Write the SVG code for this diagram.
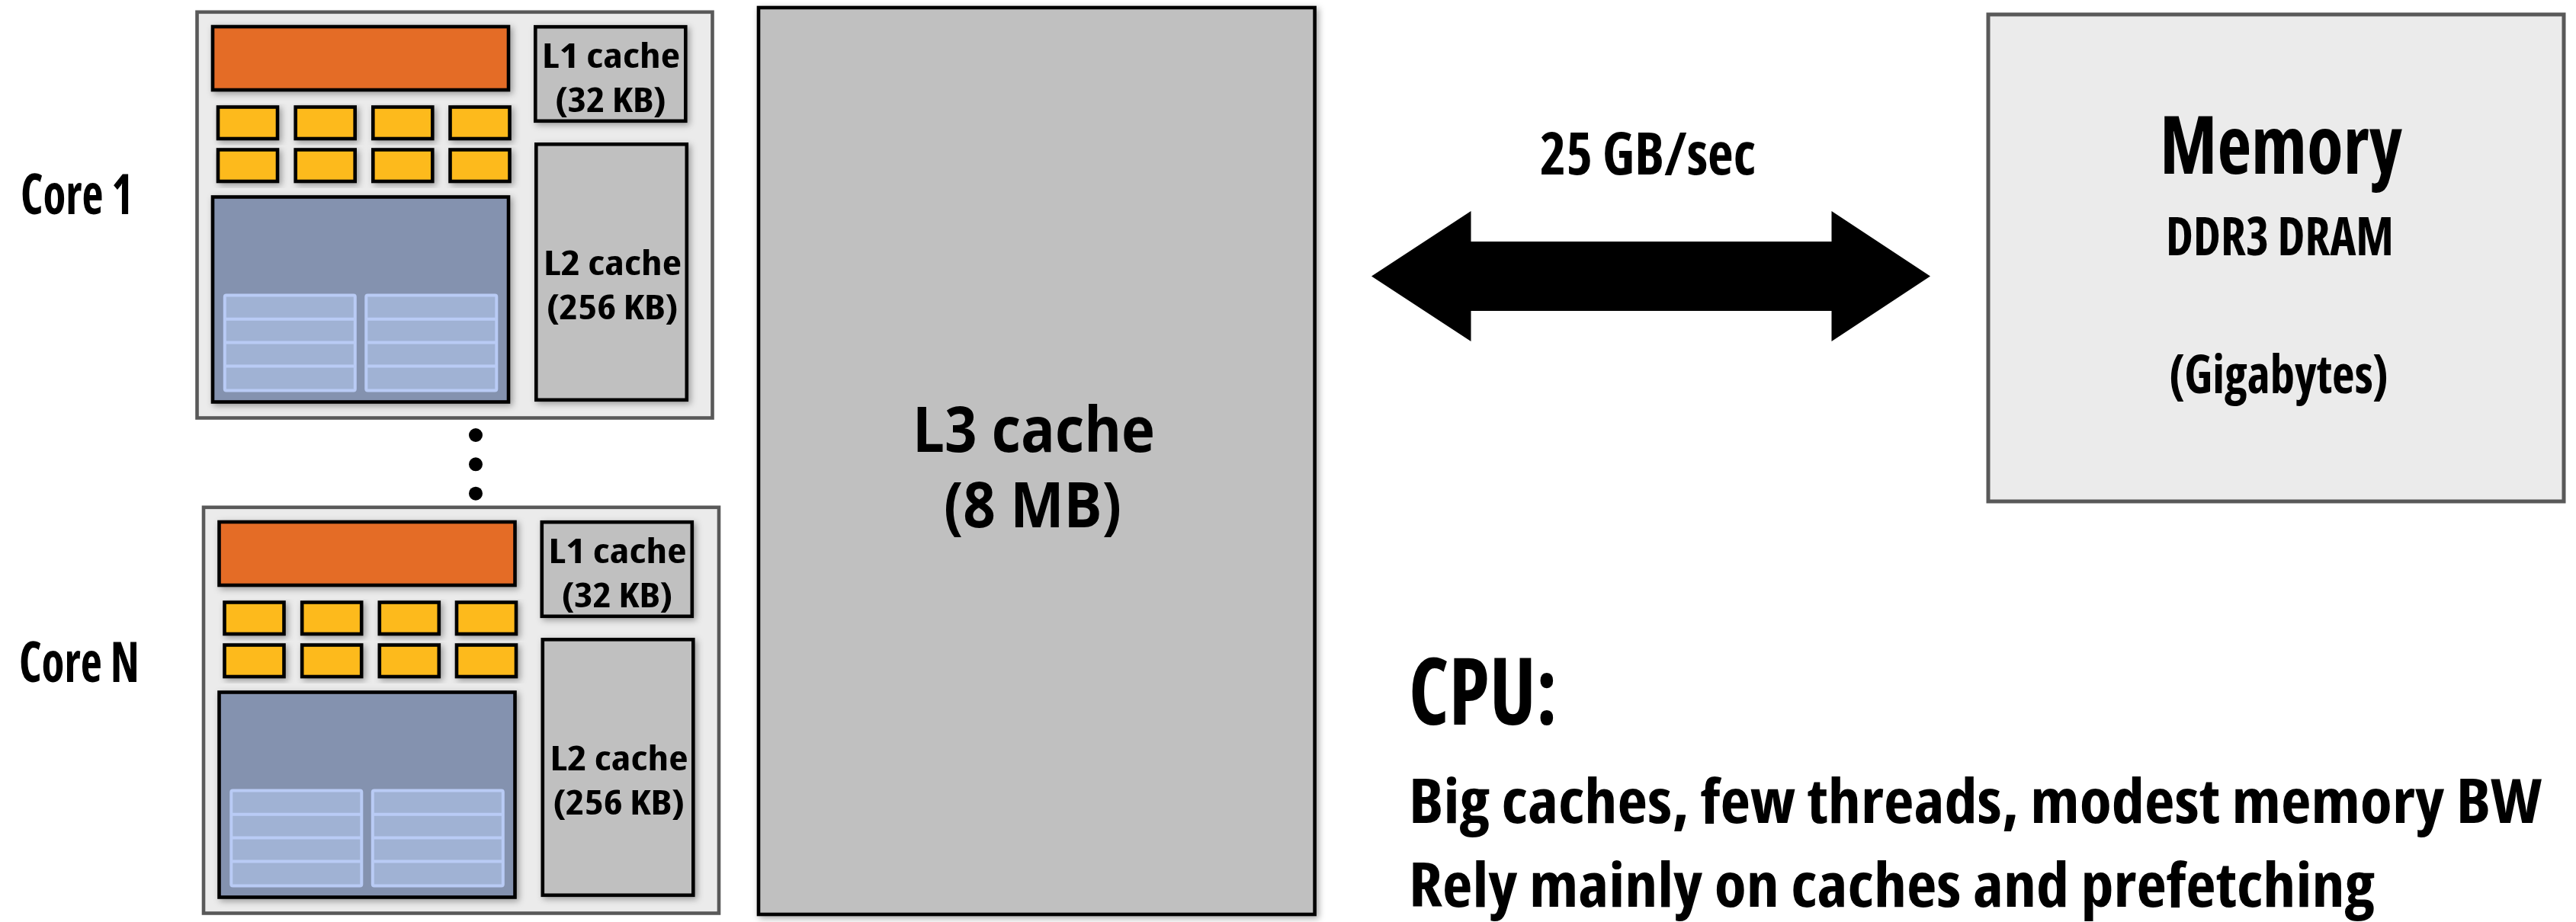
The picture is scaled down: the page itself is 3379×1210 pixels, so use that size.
<svg xmlns="http://www.w3.org/2000/svg" xmlns:xlink="http://www.w3.org/1999/xlink" width="3379" height="1210" viewBox="0 0 3379 1210">
<defs>
<filter id="sh" x="-10%" y="-10%" width="130%" height="130%">
<feDropShadow dx="3" dy="3" stdDeviation="4" flood-color="#000" flood-opacity="0.35"/>
</filter>
<g id="coreBody">
<rect class="outer" x="258.5" y="15.8" width="676" height="532.7"/>
<rect class="blk orange" x="279" y="35" width="388" height="83" filter="url(#sh)"/>
<rect class="blk yel" x="286" y="140.5" width="78" height="41.5" filter="url(#sh)"/>
<rect class="blk yel" x="387.7" y="140.5" width="78" height="41.5" filter="url(#sh)"/>
<rect class="blk yel" x="489.3" y="140.5" width="78" height="41.5" filter="url(#sh)"/>
<rect class="blk yel" x="590.5" y="140.5" width="78" height="41.5" filter="url(#sh)"/>
<rect class="blk yel" x="286" y="196.5" width="78" height="41.5" filter="url(#sh)"/>
<rect class="blk yel" x="387.7" y="196.5" width="78" height="41.5" filter="url(#sh)"/>
<rect class="blk yel" x="489.3" y="196.5" width="78" height="41.5" filter="url(#sh)"/>
<rect class="blk yel" x="590.5" y="196.5" width="78" height="41.5" filter="url(#sh)"/>
<rect class="blk blue" x="279" y="258.5" width="388" height="269" filter="url(#sh)"/>
<rect class="grid" x="294.8" y="387.6" width="171" height="125" rx="2"/>
<rect class="grid" x="480.3" y="387.6" width="171" height="125" rx="2"/>
<path class="gline" d="M294.8 418.8H465.8M294.8 449.6H465.8M294.8 480.6H465.8M480.3 418.8H651.3M480.3 449.6H651.3M480.3 480.6H651.3"/>
<rect class="blk cache" x="702.3" y="35.2" width="197" height="123.6" filter="url(#sh)"/>
<rect class="blk cache" x="703.3" y="189.3" width="197.5" height="335.5" filter="url(#sh)"/>
<text class="t sm" x="801.5" y="88.6" textLength="181" lengthAdjust="spacingAndGlyphs">L1 cache</text>
<text class="t sm" x="801" y="146.5" textLength="146" lengthAdjust="spacingAndGlyphs">(32 KB)</text>
<text class="t sm" x="803.5" y="360.7" textLength="181" lengthAdjust="spacingAndGlyphs">L2 cache</text>
<text class="t sm" x="803.2" y="419.3" textLength="173" lengthAdjust="spacingAndGlyphs">(256 KB)</text>
</g>
</defs>
<style>
.outer{fill:#ebebeb;stroke:#595959;stroke-width:4.6}
.blk{stroke:#000;stroke-width:4.6}
.orange{fill:#e46c25}
.yel{fill:#fdba1a}
.blue{fill:#8492af}
.cache{fill:#c0c0c0}
.grid{fill:#a0b2d4;stroke:#b9cbf5;stroke-width:4}
.gline{fill:none;stroke:#b9cbf5;stroke-width:4}
.t{font-family:"Open Sans","Liberation Sans",sans-serif;font-weight:700;font-stretch:condensed;fill:#000;text-anchor:middle}
.l{text-anchor:start}
.sm{font-size:44px}
</style>
<rect width="3379" height="1210" fill="#ffffff"/>
<g id="core1">
<use xlink:href="#coreBody" href="#coreBody"/>
<text class="t l" x="27" y="281" font-size="73" textLength="148" lengthAdjust="spacingAndGlyphs">Core 1</text>
</g>
<g id="ellipsis">
<circle cx="624" cy="571" r="9"/>
<circle cx="624" cy="609.3" r="9"/>
<circle cx="624" cy="647.7" r="9"/>
</g>
<g id="coreN">
<use xlink:href="#coreBody" href="#coreBody" transform="translate(8.5,650)"/>
<text class="t l" x="25" y="895" font-size="73" textLength="158" lengthAdjust="spacingAndGlyphs">Core N</text>
</g>
<g id="l3">
<rect x="995" y="10" width="729.6" height="1190" fill="#c0c0c0" stroke="#000" stroke-width="4.6" filter="url(#sh)"/>
<text class="t" x="1356" y="593" font-size="82" style="font-stretch:normal" textLength="318" lengthAdjust="spacingAndGlyphs">L3 cache</text>
<text class="t" x="1354.5" y="692" font-size="82" style="font-stretch:normal" textLength="233" lengthAdjust="spacingAndGlyphs">(8 MB)</text>
</g>
<g id="memory">
<rect x="2608" y="19" width="755" height="639" fill="#ebebeb" stroke="#595959" stroke-width="5"/>
<text class="t" x="2992" y="228" font-size="106" textLength="318" lengthAdjust="spacingAndGlyphs">Memory</text>
<text class="t" x="2990.5" y="335" font-size="69" textLength="299" lengthAdjust="spacingAndGlyphs">DDR3 DRAM</text>
<text class="t" x="2989" y="516" font-size="69" textLength="288" lengthAdjust="spacingAndGlyphs">(Gigabytes)</text>
</g>
<g id="connectors">
<polygon points="1799,362.5 1929.5,277 1929.5,317 2402.5,317 2402.5,277 2532,362.5 2402.5,448 2402.5,408 1929.5,408 1929.5,448" fill="#000"/>
<text class="t" x="2161.5" y="229" font-size="77" textLength="283" lengthAdjust="spacingAndGlyphs">25 GB/sec</text>
</g>
<g id="cpu-notes">
<text class="t l" x="1848" y="951" font-size="122" textLength="195" lengthAdjust="spacingAndGlyphs">CPU:</text>
<text class="t l" x="1848" y="1080" font-size="80" textLength="1486" lengthAdjust="spacingAndGlyphs">Big caches, few threads, modest memory BW</text>
<text class="t l" x="1848" y="1190" font-size="80" textLength="1267" lengthAdjust="spacingAndGlyphs">Rely mainly on caches and prefetching</text>
</g>
</svg>
